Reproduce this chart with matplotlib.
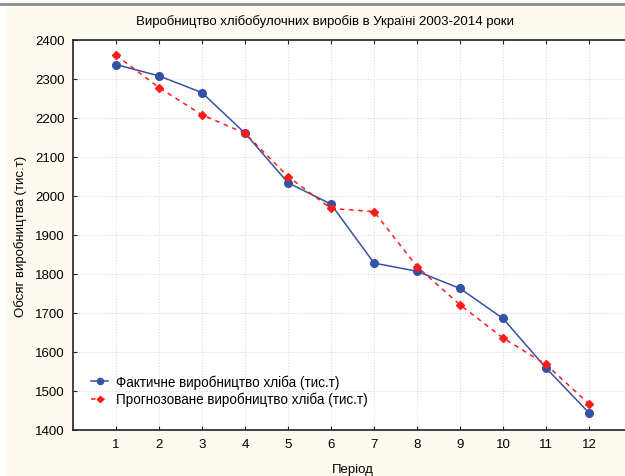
import matplotlib
matplotlib.use("Agg")
import matplotlib.pyplot as plt
from matplotlib.patches import Rectangle
from matplotlib.lines import Line2D

# Bread production in Ukraine, periods 1..12 (2003-2014)
periods = [1, 2, 3, 4, 5, 6, 7, 8, 9, 10, 11, 12]
actual = [2337, 2308, 2265, 2161, 2034, 1979, 1828, 1807, 1763, 1686, 1559, 1444]
forecast = [2361, 2278, 2208, 2161, 2050, 1968, 1960, 1819, 1721, 1636, 1568, 1467]
y_ticks = [1400, 1500, 1600, 1700, 1800, 1900, 2000, 2100, 2200, 2300, 2400]

plt.rcParams["font.family"] = ["Liberation Sans", "DejaVu Sans"]

fig = plt.figure(figsize=(6.25, 4.77), dpi=100, facecolor="white")

# cream panel + grey rule across the top (behind the axes)
fig.patches.append(Rectangle((7 / 625, 0), 1, 1 - 7 / 477,
                             transform=fig.transFigure, facecolor="#fffaf0",
                             edgecolor="none", zorder=-10))
fig.lines.append(Line2D([0, 1], [1 - 5 / 477, 1 - 5 / 477],
                        transform=fig.transFigure, color="#8c8c8c",
                        linewidth=2.0, zorder=-5))

ax = fig.add_axes([73 / 625, 1 - 431 / 477, 559 / 625, 390 / 477])
ax.set_facecolor("white")

ax.plot(periods, actual, color="#3452a4", linewidth=1.1, marker="o",
        markersize=5.5, label="Фактичне виробництво хліба (тис.т)", zorder=3)
ax.plot(periods, forecast, color="#ff1a1a", linewidth=1.1, linestyle=(0, (3, 3)),
        marker="D", markersize=4, label="Прогнозоване виробництво хліба (тис.т)",
        zorder=4)

ax.set_xlim(0, 13)
ax.set_ylim(1400, 2400)
ax.set_xticks(periods)
ax.set_yticks(y_ticks)
ax.tick_params(direction="in", length=3, labelsize=9.5, top=True, right=False,
               color="#222222", pad=6)
ax.grid(True, color="#dcdcdc", linestyle=(0, (1, 1.5)), linewidth=0.8)
for side in ["left", "bottom", "top"]:
    ax.spines[side].set_linewidth(1.2)
    ax.spines[side].set_color("#222222")
ax.spines["right"].set_visible(False)

ax.set_xlabel("Період", fontsize=9.5, labelpad=9)
ax.set_ylabel("Обсяг виробництва (тис.т)", fontsize=9.5, labelpad=6)
fig.text(325 / 625, 1 - 22 / 477,
         "Виробництво хлібобулочних виробів в Україні 2003-2014 роки",
         ha="center", va="center", fontsize=9.5)

leg = ax.legend(loc="lower left", bbox_to_anchor=(0.022, 0.047), frameon=False,
                fontsize=9.75, handlelength=1.3, handletextpad=0.6,
                labelspacing=0.2, borderaxespad=0, markerscale=0.8)

fig.savefig("out.png", dpi=100, facecolor=fig.get_facecolor())
